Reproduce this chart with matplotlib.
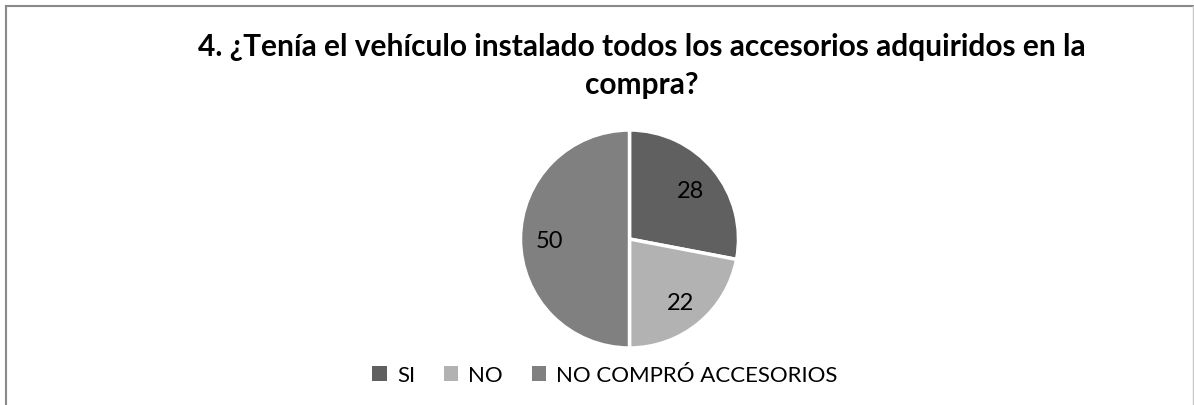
import matplotlib
matplotlib.use("Agg")
import matplotlib.pyplot as plt
from matplotlib.lines import Line2D
from matplotlib.patches import Patch
import numpy as np

categories = ["SI", "NO", "NO COMPRÓ ACCESORIOS"]
values = [28, 22, 50]
colors = ["#606060", "#b2b2b2", "#808080"]
title = "4. ¿Tenía el vehículo instalado todos los accesorios adquiridos en la\ncompra?"

plt.rcParams['font.family'] = ['Lato', 'DejaVu Sans']

W, H = 1194, 406
fig = plt.figure(figsize=(W/100, H/100), dpi=100)

# frame
fig.add_artist(Line2D([6/W, 6/W], [0, 1 - 7/H], color="#8a8a8a", lw=1.5, transform=fig.transFigure))
fig.add_artist(Line2D([6/W, 1193/W], [1 - 7/H, 1 - 7/H], color="#8a8a8a", lw=1.5, transform=fig.transFigure))
fig.add_artist(Line2D([1192.5/W, 1192.5/W], [0, 1 - 7/H], color="#c8c8c8", lw=1.0, transform=fig.transFigure))

fig.text(642/W, 1 - 66/H, title, ha="center", va="center", fontsize=21.5, fontweight="bold",
         linespacing=1.45, color="#000000")

r = 109
cx, cy = 629.5, 240
ax = fig.add_axes([(cx - r)/W, (H - cy - r)/H, 2*r/W, 2*r/H])
wedges, texts = ax.pie(values, colors=colors, startangle=90, counterclock=False,
                       wedgeprops=dict(edgecolor="white", linewidth=2.5), radius=1.0)
for w, v in zip(wedges, values):
    ang = np.deg2rad((w.theta1 + w.theta2) / 2)
    ax.text(0.73*np.cos(ang), 0.73*np.sin(ang), str(v), ha="center", va="center_baseline",
            fontsize=17, color="#000000")
ax.set_xlim(-1, 1)
ax.set_ylim(-1, 1)
ax.set_aspect("equal")

handles = [Patch(facecolor=c, edgecolor="none") for c in colors]
fig.legend(handles, categories, loc="center", bbox_to_anchor=(605/W, 1 - 376/H), ncol=3,
           frameon=False, fontsize=16, handlelength=0.65, handleheight=0.65, handletextpad=0.45,
           columnspacing=1.3)

fig.savefig("out.png", dpi=100)
